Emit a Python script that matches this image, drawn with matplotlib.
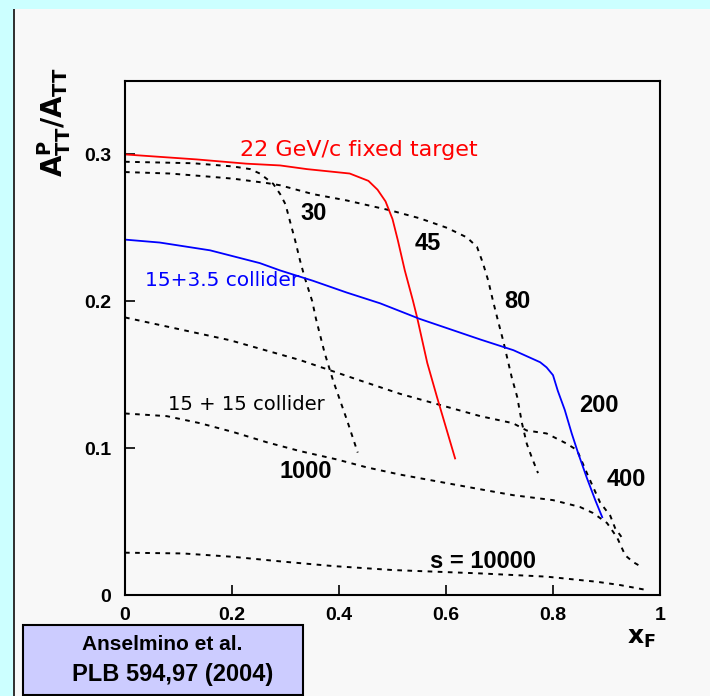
import matplotlib
matplotlib.use("Agg")
import matplotlib.pyplot as plt
from matplotlib.patches import Rectangle

# A_TT^P / A_TT versus x_F for several values of s (GeV^2)
x_s30 = [0, 0.127, 0.202, 0.234, 0.252, 0.277, 0.29, 0.30, 0.308, 0.318,
         0.327, 0.336, 0.35, 0.357, 0.373, 0.389, 0.415, 0.435]
y_s30 = [0.295, 0.294, 0.2918, 0.290, 0.287, 0.280, 0.273, 0.266, 0.255, 0.2415,
         0.228, 0.216, 0.200, 0.188, 0.165, 0.146, 0.119, 0.097]

x_s45 = [0, 0.134, 0.227, 0.29, 0.34, 0.42, 0.455, 0.472, 0.487, 0.50, 0.51,
         0.523, 0.538, 0.546, 0.565, 0.583, 0.60, 0.617]
y_s45 = [0.300, 0.2966, 0.2937, 0.2925, 0.290, 0.287, 0.282, 0.276, 0.268, 0.256,
         0.2415, 0.221, 0.2007, 0.189, 0.158, 0.135, 0.114, 0.093]

x_s80 = [0, 0.084, 0.153, 0.202, 0.265, 0.29, 0.351, 0.414, 0.495, 0.551,
         0.602, 0.639, 0.658, 0.669, 0.679, 0.688, 0.697, 0.707, 0.723, 0.733,
         0.742, 0.751, 0.76, 0.772]
y_s80 = [0.288, 0.287, 0.285, 0.2835, 0.2805, 0.279, 0.273, 0.2687, 0.262, 0.2565,
         0.250, 0.2435, 0.237, 0.226, 0.214, 0.200, 0.187, 0.173, 0.148, 0.135,
         0.117, 0.103, 0.094, 0.083]

x_s200 = [0, 0.065, 0.159, 0.252, 0.29, 0.351, 0.414, 0.477, 0.551, 0.664,
          0.726, 0.776, 0.788, 0.80, 0.809, 0.822, 0.835, 0.847, 0.863, 0.879,
          0.892]
y_s200 = [0.242, 0.240, 0.2347, 0.226, 0.221, 0.214, 0.206, 0.1986, 0.188, 0.174,
          0.1667, 0.1585, 0.155, 0.1497, 0.139, 0.126, 0.110, 0.0966, 0.080, 0.0646,
          0.053]

x_s400 = [0, 0.196, 0.327, 0.44, 0.514, 0.664, 0.725, 0.751, 0.788, 0.826,
          0.845, 0.865, 0.888, 0.907, 0.916, 0.929]
y_s400 = [0.189, 0.1735, 0.160, 0.146, 0.137, 0.1218, 0.117, 0.112, 0.110, 0.103,
          0.0986, 0.0816, 0.063, 0.054, 0.0456, 0.039]

x_s1000 = [0, 0.078, 0.14, 0.202, 0.265, 0.327, 0.396, 0.452, 0.514, 0.664,
           0.725, 0.80, 0.85, 0.875, 0.901, 0.92, 0.935, 0.95, 0.966]
y_s1000 = [0.1236, 0.1218, 0.117, 0.111, 0.104, 0.098, 0.0923, 0.0869, 0.082, 0.072,
           0.068, 0.0646, 0.060, 0.0558, 0.049, 0.039, 0.027, 0.0224, 0.019]

x_s10000 = [0, 0.108, 0.202, 0.296, 0.389, 0.50, 0.664, 0.788, 0.882, 0.925, 0.975]
y_s10000 = [0.0288, 0.0283, 0.026, 0.0227, 0.0197, 0.017, 0.0147, 0.0125, 0.009,
            0.0068, 0.0034]

x_ticks = [0, 0.2, 0.4, 0.6, 0.8, 1.0]
x_tick_labels = ["0", "0.2", "0.4", "0.6", "0.8", "1"]
y_ticks = [0, 0.1, 0.2, 0.3]
y_tick_labels = ["0", "0.1", "0.2", "0.3"]

W, H = 710, 696
fig = plt.figure(figsize=(W / 100, H / 100), dpi=100, facecolor="#ccffff")

# page panel with a dark left rule
fig.patches.append(Rectangle((15 / W, 0), 1 - 15 / W, 1 - 9 / H,
                             transform=fig.transFigure, facecolor="#f8f8f8",
                             edgecolor="none", zorder=-2))
fig.patches.append(Rectangle((13 / W, 0), 2 / W, 1 - 9 / H,
                             transform=fig.transFigure, facecolor="#333333",
                             edgecolor="none", zorder=-1))

ax = fig.add_axes([125 / W, 1 - 595 / H, 535 / W, 514 / H])
ax.set_zorder(5)
ax.set_facecolor("#f8f8f8")
ax.set_xlim(0, 1)
ax.set_ylim(0, 0.35)

dot = (0, (2.4, 2.8))
for xs, ys in [(x_s30, y_s30), (x_s80, y_s80), (x_s400, y_s400),
               (x_s1000, y_s1000), (x_s10000, y_s10000)]:
    ax.plot(xs, ys, color="black", lw=1.4, ls=dot)
ax.plot(x_s45, y_s45, color="#ff0000", lw=1.3)
ax.plot(x_s200, y_s200, color="#0000ff", lw=1.3)

for sp in ax.spines.values():
    sp.set_linewidth(1.5)
ax.set_xticks(x_ticks)
ax.set_xticklabels(x_tick_labels)
ax.set_yticks(y_ticks)
ax.set_yticklabels(y_tick_labels)
ax.tick_params(direction="in", length=7, width=1.2, top=False, right=False,
               labelsize=14)
ax.tick_params(axis="x", pad=9)
ax.tick_params(axis="y", pad=10)
for lab in ax.get_xticklabels() + ax.get_yticklabels():
    lab.set_fontweight("bold")
    lab.set_family("Liberation Sans")


def px(x, y):
    return x / W, 1 - y / H


lbl = dict(transform=fig.transFigure, ha="center", va="center", zorder=6)
fig.text(*px(359, 150), "22 GeV/c fixed target", color="#ff0000", fontsize=16,
         family="DejaVu Sans", **lbl)
fig.text(*px(222, 281), "15+3.5 collider", color="#0000ff", fontsize=14.5,
         family="DejaVu Sans", **lbl)
fig.text(*px(246, 405), "15 + 15 collider", color="black", fontsize=14,
         family="DejaVu Sans", **lbl)

for (xp, yp), t in [((314, 214), "30"), ((428, 243), "45"), ((517, 302), "80"),
                    ((599, 405), "200"), ((626, 479), "400"), ((306, 471), "1000"),
                    ((483, 562), "s = 10000")]:
    fig.text(*px(xp, yp), t, fontsize=17, fontweight="bold", color="black",
             family="Liberation Sans", **lbl)

fig.text(*px(54, 122), r"$\mathbf{A_{TT}^{P}/A_{TT}}$", rotation=90,
         fontsize=20, transform=fig.transFigure, ha="center", va="center")
fig.text(*px(641, 638), r"$\mathbf{x_{F}}$", fontsize=18,
         transform=fig.transFigure, ha="center", va="center")

# reference box
fig.patches.append(Rectangle((23 / W, 1 - 695 / H), 280 / W, 70 / H,
                             transform=fig.transFigure, facecolor="#ccccff",
                             edgecolor="black", lw=1.5, zorder=2))
fig.text(*px(162, 645), "Anselmino et al.", fontsize=15, fontweight="bold",
         family="Liberation Sans", **lbl)
fig.text(*px(173, 675), "PLB 594,97 (2004)", fontsize=17, fontweight="bold",
         family="Liberation Sans", **lbl)

fig.savefig("out.png", dpi=100, facecolor=fig.get_facecolor())
